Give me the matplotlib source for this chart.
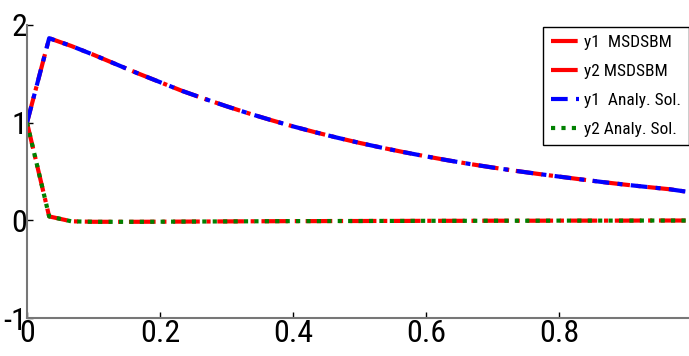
import numpy as np
import matplotlib
matplotlib.use("Agg")
import matplotlib.pyplot as plt
from matplotlib import font_manager

# time grid, h = 1/30
t = [k / 30 for k in range(31)]

y1_num = [1.0, 1.865, 1.785, 1.695, 1.600, 1.505, 1.415, 1.325, 1.245, 1.168,
          1.095, 1.027, 0.962, 0.902, 0.846, 0.793, 0.744, 0.698, 0.655, 0.614,
          0.576, 0.541, 0.508, 0.477, 0.448, 0.419, 0.391, 0.365, 0.341, 0.318,
          0.285]
y2_num = [1.0, 0.040, -0.010, -0.015, -0.015, -0.015, -0.014, -0.013, -0.012, -0.011,
          -0.010, -0.009, -0.008, -0.008, -0.007, -0.007, -0.006, -0.006, -0.005, -0.005,
          -0.005, -0.004, -0.004, -0.004, -0.003, -0.003, -0.003, -0.003, -0.002, -0.002,
          -0.002]
y1_ana = list(y1_num)
y2_ana = list(y2_num)

labels = ["y1  MSDSBM", "y2 MSDSBM", "y1  Analy. Sol.", "y2 Analy. Sol."]
xticks = [0, 0.2, 0.4, 0.6, 0.8]
xticklabels = ["0", "0.2", "0.4", "0.6", "0.8"]
yticks = [-1, 0, 1, 2]

names = {f.name for f in font_manager.fontManager.ttflist}
narrow = [n for n in ["Liberation Sans Narrow", "Roboto Condensed", "Open Sans Condensed",
                      "Noto Sans Condensed", "DejaVu Sans Condensed"] if n in names]
plt.rcParams["font.family"] = narrow + ["DejaVu Sans"]
plt.rcParams["font.stretch"] = "condensed"

fig = plt.figure(figsize=(6.89, 3.56), dpi=100)
ax = fig.add_axes([27 / 689, 38 / 356, 665 / 689, 293 / 356])

ax.plot(t, y1_num, color="red", ls="-.", lw=3, label=labels[0])
ax.plot(t, y2_num, color="red", ls="-.", lw=3, label=labels[1])
ax.plot(t, y1_ana, color="blue", ls=(0, (4, 2, 1.2, 2)), lw=3, label=labels[2])
ax.plot(t, y2_ana, color="green", ls=(0, (1, 1.5)), lw=3, label=labels[3])

ax.set_xlim(0, 1)
ax.set_ylim(-1, 2)
ax.set_xticks(xticks)
ax.set_xticklabels(xticklabels)
ax.set_yticks(yticks)
ax.set_yticklabels([str(v) for v in yticks])
ax.tick_params(direction="in", length=4, width=1, labelsize=23, pad=1)
ax.tick_params(axis="y", pad=0)
for s in ["top", "right"]:
    ax.spines[s].set_visible(False)
for s in ["left", "bottom"]:
    ax.spines[s].set_color("#777777")
    ax.spines[s].set_linewidth(1.5)

leg = ax.legend(loc="upper right", bbox_to_anchor=(0.995, 0.993), borderaxespad=0,
                fontsize=12.5, handlelength=1.6, handletextpad=0.3, borderpad=0.45,
                labelspacing=0.8, fancybox=False, framealpha=1)
leg.get_frame().set_edgecolor("black")
leg.get_frame().set_linewidth(1)

fig.savefig("out.png", dpi=100)
